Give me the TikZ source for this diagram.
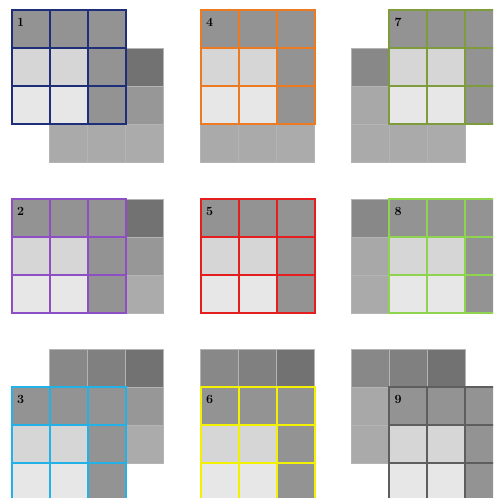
\documentclass[tikz,border=0pt]{standalone}
\usepackage{xcolor}

% image cells (column, row)
\definecolor{bg00}{HTML}{888888}
\definecolor{bg10}{HTML}{808080}
\definecolor{bg20}{HTML}{727272}
\definecolor{bg01}{HTML}{A8A8A8}
\definecolor{bg11}{HTML}{A0A0A0}
\definecolor{bg21}{HTML}{979797}
\definecolor{bg02}{HTML}{AAAAAA}
\definecolor{bg12}{HTML}{AAAAAA}
\definecolor{bg22}{HTML}{ABABAB}
\definecolor{bgline}{HTML}{B4B4B4}
% window cells
\definecolor{win00}{HTML}{939393}
\definecolor{win10}{HTML}{939393}
\definecolor{win20}{HTML}{939393}
\definecolor{win01}{HTML}{D6D6D6}
\definecolor{win11}{HTML}{D6D6D6}
\definecolor{win21}{HTML}{939393}
\definecolor{win02}{HTML}{E7E7E7}
\definecolor{win12}{HTML}{E7E7E7}
\definecolor{win22}{HTML}{939393}
% window borders
\definecolor{winnavy}{HTML}{1F2E78}
\definecolor{winorange}{HTML}{EC7A22}
\definecolor{winolive}{HTML}{7E9C3C}
\definecolor{winpurple}{HTML}{8E4FC4}
\definecolor{winred}{HTML}{E41E1E}
\definecolor{winlime}{HTML}{8ED44E}
\definecolor{wincyan}{HTML}{22B2E8}
\definecolor{winyellow}{HTML}{F2F200}
\definecolor{wingray}{HTML}{5E5E5E}

% #1,#2 image corner, #3,#4 window offset in cells, #5 colour, #6 number
\newcommand{\kpanel}[6]{%
  \begin{scope}[shift={(#1,#2)}]
    \foreach \c in {0,1,2} \foreach \r in {0,1,2}
      \filldraw[bgcell, fill=bg\c\r] (\c*38,\r*38) rectangle ++(38,38);
    \begin{scope}[shift={(#3*38,#4*38)}]
      \foreach \c in {0,1,2} \foreach \r in {0,1,2}
        \fill[win\c\r] (\c*38,\r*38) rectangle ++(38,38);
      \foreach \i in {0,38,76,114} {
        \draw[wingrid, draw=#5] (\i,0) -- (\i,114);
        \draw[wingrid, draw=#5] (0,\i) -- (114,\i);
      }
      \node[numlabel] (lab#6) at (5.5,16) {#6};
    \end{scope}
  \end{scope}}

\begin{document}
\begin{tikzpicture}[x=1pt, y=-1pt,
    bgcell/.style={draw=bgline, line width=0.7pt},
    wingrid/.style={line width=2pt, line cap=rect},
    numlabel/.style={anchor=base west, inner sep=0pt, font=\fontsize{12.5}{12.5}\selectfont\bfseries}]
  \useasboundingbox (0,0) rectangle (493,498);
  \clip (0,0) rectangle (493,498);
  \fill[white] (0,0) rectangle (493,498);

  \kpanel{49.5}{48}{-1}{-1}{winnavy}{1}
  \kpanel{200.5}{48}{0}{-1}{winorange}{4}
  \kpanel{351}{48}{1}{-1}{winolive}{7}

  \kpanel{49.5}{199}{-1}{0}{winpurple}{2}
  \kpanel{200.5}{199}{0}{0}{winred}{5}
  \kpanel{351}{199}{1}{0}{winlime}{8}

  \kpanel{49.5}{349}{-1}{1}{wincyan}{3}
  \kpanel{200.5}{349}{0}{1}{winyellow}{6}
  \kpanel{351}{349}{1}{1}{wingray}{9}
\end{tikzpicture}
\end{document}
